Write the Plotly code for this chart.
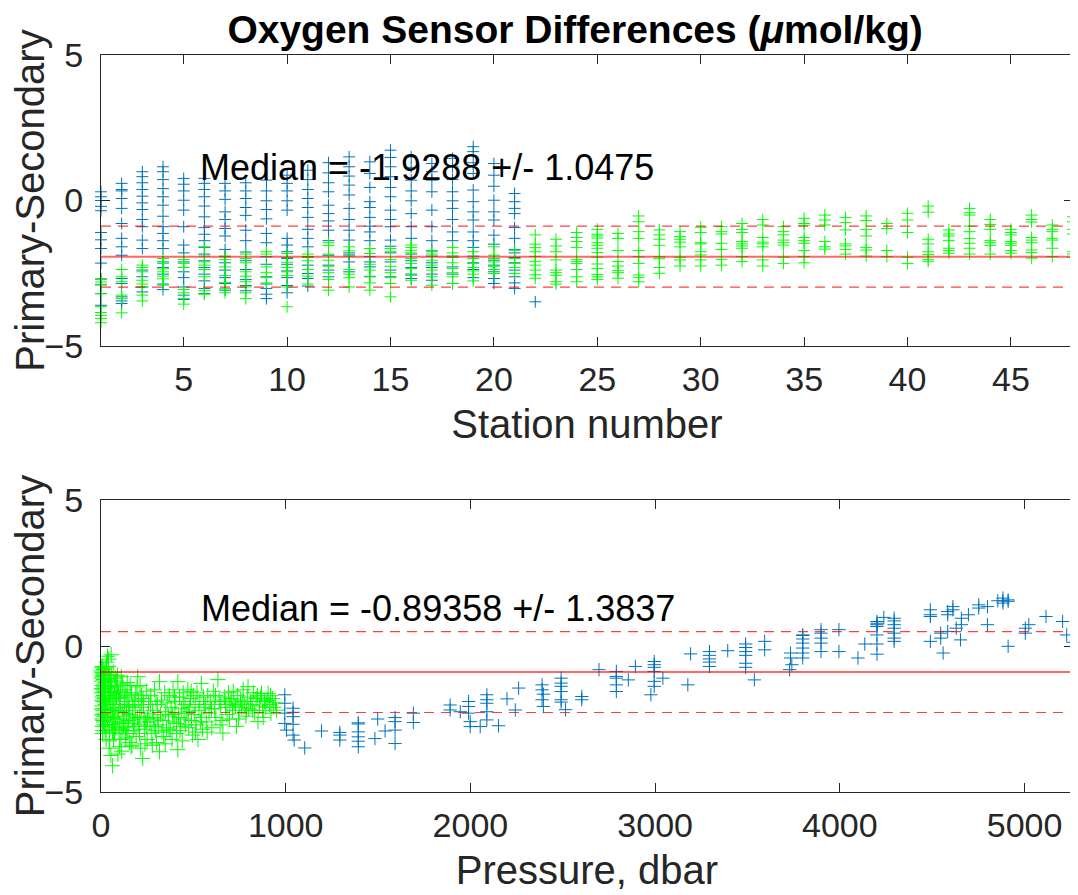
import plotly.graph_objects as go

# --- axis ticks / limits ---
STATION_TICKS = [5, 10, 15, 20, 25, 30, 35, 40, 45]
PRESSURE_TICKS = [0, 1000, 2000, 3000, 4000, 5000]
DIFF_TICKS = [-5, 0, 5]
STATION_RANGE = [1, 48]
PRESSURE_RANGE = [0, 5262]
DIFF_RANGE = [-5, 5]

# --- summary statistics printed on the panels ---
STATION_MEDIAN = -1.9288
STATION_SPREAD = 1.0475
PRESSURE_MEDIAN = -0.89358
PRESSURE_SPREAD = 1.3837

# --- top panel: primary-secondary per station (deep samples, stations 1-22) ---
DEEP_BY_STATION = [
    [0.3, 0.13, 0.0, -0.2, -0.35, -1.1, -1.35, -1.65, -2.15, -2.7, -2.9, -3.2, -3.6],
    [0.59, 0.38, 0.33, 0.07, -0.27, -0.79, -1.3, -1.59, -1.88, -2.68, -2.85, -3.31, -3.45, -3.54],
    [0.99, 0.82, 0.61, 0.38, 0.15, -0.08, -0.31, -0.65, -0.9, -1.36, -1.65, -2.39, -2.62, -2.97, -3.14],
    [1.16, 0.99, 0.72, 0.41, 0.13, -0.16, -0.54, -0.9, -1.13, -1.38, -1.65, -2.11, -2.3, -2.53, -2.87, -3.06],
    [0.76, 0.56, 0.33, 0.01, -0.33, -0.9, -1.53, -1.8, -2.11, -2.45, -2.65, -2.97, -3.25, -3.4],
    [0.76, 0.59, 0.38, 0.13, -0.19, -0.56, -0.93, -1.16, -1.38, -1.61, -1.84, -2.07, -2.3, -2.53, -2.76, -3.02, -3.2],
    [0.59, 0.33, 0.04, -0.39, -0.65, -0.96, -1.22, -1.68, -1.93, -2.14, -2.39, -2.65, -2.85, -3.08],
    [0.61, 0.33, 0.07, -0.24, -0.51, -1.02, -1.38, -1.77, -2.07, -2.37, -2.71, -2.92, -3.1],
    [0.7, 0.33, -0.01, -0.31, -0.63, -1.13, -1.45, -1.93, -2.19, -2.62, -2.87, -3.02, -3.22, -3.37],
    [0.87, 0.59, 0.33, -0.01, -0.33, -1.3, -1.53, -1.76, -1.99, -2.19, -2.42, -2.65, -2.92, -3.17],
    [1.04, 0.72, 0.38, 0.07, -0.24, -0.58, -0.99, -1.3, -1.59, -1.93, -2.22, -2.51, -2.68, -2.94],
    [1.3, 0.95, 0.61, 0.3, -0.16, -0.45, -0.7, -1.02, -1.38, -1.88, -2.22, -2.39, -2.62],
    [1.5, 1.16, 0.84, 0.53, 0.19, -0.27, -0.65, -1.02, -1.36, -1.8, -1.87, -2.11, -2.45],
    [1.33, 0.93, 0.45, -0.04, -0.24, -0.58, -0.88, -1.08, -1.38, -1.93, -2.11, -2.28, -2.62],
    [1.73, 1.48, 1.16, 0.82, 0.45, 0.13, -0.33, -0.65, -0.9, -1.36, -1.57, -1.8, -2.11, -2.39, -2.62],
    [1.5, 1.14, 0.7, 0.33, -0.01, -0.45, -0.9, -1.3, -1.84, -2.07, -2.3, -2.53, -2.68],
    [1.27, 0.99, 0.7, 0.3, -0.33, -0.9, -1.38, -1.73, -1.91, -2.14, -2.3, -2.53, -2.74],
    [1.45, 1.16, 0.72, 0.3, -0.01, -0.27, -0.65, -1.08, -1.38, -1.91, -2.28, -2.53, -2.85],
    [1.85, 1.68, 1.3, 0.93, 0.36, -0.04, -0.39, -0.67, -1.08, -1.38, -1.61, -1.91, -2.14, -2.37, -2.65],
    [1.27, 0.87, 0.49, 0.01, -0.39, -0.67, -1.19, -1.5, -2.05, -2.22, -2.45, -2.68, -2.85],
    [0.24, -0.04, -0.27, -0.45, -0.93, -1.3, -1.68, -1.8, -1.96, -2.14, -2.39, -2.62, -2.83, -3.02],
    [-3.48],
]

# --- top panel: shallow samples, stations 1-48 ---
SHALLOW_BY_STATION = [
    [-2.68, -2.8, -2.88, -3.2, -3.65, -3.85, -3.95, -4.05, -4.2],
    [-2.37, -2.62, -2.79, -3.25, -3.37, -3.86],
    [-2.22, -2.3, -2.45, -2.74, -2.87, -2.97, -3.25, -3.45],
    [-1.99, -2.16, -2.35, -2.45, -2.6, -2.69, -2.91],
    [-2.03, -2.16, -2.3, -3.06, -3.17, -3.37, -3.56],
    [-1.59, -1.91, -2.11, -2.22, -2.37, -2.62, -3.1, -3.22],
    [-1.91, -2.03, -2.28, -2.58, -2.81, -3.03, -3.17],
    [-1.84, -1.99, -2.14, -2.45, -2.6, -2.79, -2.97, -3.17, -3.37],
    [-1.76, -1.84, -2.28, -2.48, -2.65, -2.83],
    [-1.82, -1.96, -2.12, -2.3, -2.45, -2.58, -2.97, -3.65],
    [-1.84, -1.96, -2.07, -2.37, -2.6, -2.87],
    [-1.45, -1.54, -1.84, -2.05, -2.26, -2.48, -2.71, -3.08],
    [-1.59, -1.73, -1.91, -2.37, -2.53, -2.65, -2.97],
    [-1.65, -1.82, -2.19, -2.39, -2.6, -2.83, -3.08],
    [-1.65, -1.76, -2.03, -2.26, -2.48, -2.65, -2.85, -3.31],
    [-1.53, -1.61, -1.71, -1.8, -1.99, -2.16, -2.34, -2.57, -2.74],
    [-1.76, -1.84, -2.05, -2.22, -2.39, -2.62, -2.91],
    [-1.61, -1.8, -1.96, -2.14, -2.34, -2.48, -2.62, -2.85],
    [-1.76, -1.99, -2.16, -2.3, -2.42, -2.53, -2.76],
    [-1.59, -1.88, -1.99, -2.11, -2.26, -2.37, -2.51],
    [-1.71, -1.99, -2.16, -2.3, -2.51],
    [-1.18, -1.5, -1.62, -1.76, -1.92, -2.1, -2.22, -2.39, -2.55, -2.67],
    [-1.33, -1.56, -1.76, -2.04, -2.39, -2.48, -2.57, -2.79, -2.87],
    [-1.1, -1.27, -1.41, -1.61, -2.02, -2.09, -2.16, -2.37, -2.62, -2.79],
    [-0.99, -1.16, -1.22, -1.29, -1.45, -1.54, -1.64, -1.79, -1.95, -2.18, -2.34, -2.54, -2.62, -2.71],
    [-1.13, -1.3, -1.72, -2.1, -2.25, -2.41, -2.48, -2.67],
    [-0.53, -0.73, -1.07, -1.3, -1.72, -1.93, -2.16, -2.56, -2.64, -2.79],
    [-1.01, -1.18, -1.33, -1.54, -1.93, -2.0, -2.3, -2.5],
    [-1.07, -1.24, -1.33, -1.43, -1.59, -1.95, -2.04, -2.25],
    [-0.92, -1.1, -1.45, -1.49, -1.76, -1.87, -2.04, -2.25],
    [-0.9, -1.07, -1.15, -1.47, -1.68, -2.02, -2.22],
    [-0.79, -0.99, -1.1, -1.41, -1.49, -1.56, -1.64, -1.93, -2.1],
    [-0.65, -0.84, -1.27, -1.43, -1.49, -1.59, -2.04, -2.25],
    [-0.9, -1.07, -1.18, -1.36, -1.45, -1.53, -1.95, -2.16],
    [-0.61, -0.79, -0.85, -1.27, -1.38, -1.47, -1.72, -1.93, -2.14],
    [-0.5, -0.67, -0.84, -1.41, -1.59, -1.67],
    [-0.58, -0.76, -1.01, -1.49, -1.56, -1.68, -1.84],
    [-0.53, -0.69, -0.99, -1.22, -1.61, -1.7, -1.91],
    [-0.79, -0.96, -1.72, -1.93],
    [-0.44, -0.67, -1.1, -1.95, -2.16],
    [-0.19, -0.4, -1.33, -1.49, -1.76, -1.86, -2.02, -2.09],
    [-1.01, -1.15, -1.22, -1.38, -1.64, -1.72, -1.81],
    [-0.27, -0.42, -0.5, -0.88, -1.07, -1.3, -1.47, -1.64, -1.84],
    [-0.65, -0.82, -0.99, -1.38, -1.45, -1.54, -1.84],
    [-0.99, -1.1, -1.18, -1.41, -1.47, -1.54, -1.72, -1.81],
    [-0.5, -0.65, -0.74, -1.27, -1.36, -1.45, -1.7, -1.79, -1.98],
    [-0.84, -0.99, -1.07, -1.3, -1.36, -1.64, -1.93],
    [-0.56, -0.73, -0.99, -1.15, -1.76, -1.84, -1.95],
]

# --- bottom panel: (pressure dbar, primary-secondary) deep samples ---
DEEP_SAMPLES = [
    (995, -1.67), (995, -1.96), (1040, -2.13), (1040, -2.27), (995, -2.3), (1040, -2.42),
    (995, -2.65), (1040, -2.68), (1004, -2.88), (1040, -3.05), (1046, -3.22), (1103, -3.49),
    (1194, -2.91), (1293, -2.96), (1293, -3.05), (1293, -3.22), (1393, -2.63), (1393, -2.67),
    (1393, -2.94), (1393, -3.11), (1393, -3.26), (1393, -3.45), (1483, -3.17), (1498, -2.5),
    (1538, -2.91), (1592, -2.45), (1592, -2.59), (1592, -2.88), (1592, -3.34), (1691, -2.3),
    (1691, -2.62), (1890, -2.02), (1890, -2.19), (1945, -2.25), (1990, -1.9), (1990, -2.07),
    (1990, -2.3), (1999, -2.59), (1999, -2.76), (2053, -2.76), (2089, -1.67), (2089, -1.84),
    (2089, -1.96), (2089, -2.25), (2089, -2.53), (2152, -2.73), (2198, -1.81), (2243, -2.19),
    (2261, -1.44),
    (2388, -1.33), (2388, -1.5), (2395, -1.65), (2388, -1.84), (2395, -2.07),
    (2491, -1.1), (2491, -1.27), (2491, -1.38), (2491, -1.56), (2491, -1.84), (2491, -1.92),
    (2515, -2.18), (2603, -1.73), (2603, -1.84), (2696, -0.81),
    (2790, -0.87), (2790, -1.04), (2790, -1.1), (2790, -1.33), (2790, -1.56), (2855, -1.16),
    (2893, -0.7), (2977, -1.67),
    (2995, -0.53), (2995, -0.64), (2995, -0.73), (2995, -0.87), (2995, -1.21), (2995, -1.38),
    (3042, -1.1), (3177, -1.33), (3192, -0.27),
    (3294, -0.19), (3294, -0.32), (3294, -0.44), (3294, -0.55), (3294, -0.7), (3393, -0.16),
    (3490, 0.07), (3490, -0.05), (3490, -0.19), (3490, -0.32), (3490, -0.59), (3490, -0.73),
    (3537, -1.16), (3593, 0.16), (3593, -0.13),
    (3733, -0.24), (3733, -0.41), (3728, -0.81), (3740, -0.64),
    (3799, 0.38), (3799, 0.36), (3799, 0.24), (3799, 0.1), (3799, -0.07), (3799, -0.24), (3799, -0.41),
    (3898, 0.56), (3898, 0.44), (3898, 0.27), (3898, 0.1), (3898, -0.19),
    (3995, 0.56), (3995, -0.19), (4098, -0.41), (4135, 0.07),
    (4201, 0.84), (4201, 0.78), (4201, 0.73), (4201, 0.67), (4201, 0.38), (4201, 0.07), (4201, -0.28),
    (4238, 0.98),
    (4294, 0.95), (4294, 0.86), (4294, 0.73), (4294, 0.61), (4294, 0.44), (4294, 0.27), (4294, 0.16),
    (4490, 1.24), (4490, 1.07), (4490, 1.01), (4490, 0.16),
    (4546, 0.44), (4546, 0.27), (4559, -0.24),
    (4584, 1.18), (4584, 1.07), (4584, 0.5), (4612, 1.35), (4612, 1.24), (4630, 0.61),
    (4653, 0.21), (4658, 0.95), (4658, 0.73), (4696, 1.07),
    (4752, 1.41), (4752, 1.3), (4799, 1.35), (4799, 0.73), (4855, 1.55),
    (4883, 1.64), (4883, 1.55), (4883, 1.47), (4911, 1.58), (4911, 1.53), (4911, -0.01),
    (5004, 0.61), (5004, 0.44), (5023, 0.73), (5116, 1.01), (5206, 0.84), (5228, 0.38), (5262, 0.13),
]

# --- bottom panel: (pressure dbar, primary-secondary) shallow samples ---
SHALLOW_SAMPLES = [
    (3, -0.75), (5, -0.9), (8, -1.05), (4, -1.2), (6, -1.35), (10, -1.5), (3, -1.6), (7, -1.75),
    (12, -1.9), (5, -2.05), (9, -2.2), (4, -2.35), (11, -2.55), (6, -2.75), (8, -3.0), (15, -0.8),
    (18, -1.0), (20, -1.15), (16, -1.3), (22, -1.45), (25, -1.6), (19, -1.8), (24, -2.0),
    (21, -2.15), (27, -2.4), (14, -2.6), (23, -2.9), (28, -3.2), (30, -0.55), (26, -1.25),
    (2, -1.1), (13, -1.7), (17, -2.3), (29, -1.95), (11, -0.95), (1, -0.85), (2, -1.45),
    (4, -1.85), (9, -0.7), (13, -1.15), (17, -1.55), (21, -0.9), (6, -2.5), (10, -2.9),
    (7, -1.0), (15, -1.4), (20, -1.7), (26, -0.75), (3, -2.15), (12, -2.4), (18, -2.7),
    (35, -0.35), (40, -0.7), (45, -1.0), (50, -1.2), (38, -1.4), (55, -0.3), (60, -1.55),
    (42, -1.7), (65, -1.85), (48, -2.0), (70, -2.15), (52, -2.3), (75, -2.5), (58, -2.7),
    (63, -2.95), (68, -3.2), (44, -3.5), (63, -4.1), (78, -1.1), (72, -1.35), (36, -2.45),
    (56, -1.0), (80, -1.65), (46, -2.85), (74, -3.0), (66, -0.9), (33, -1.9), (77, -2.1),
    (39, -1.1), (53, -1.6), (61, -2.2), (69, -2.6), (47, -3.25), (34, -2.7), (41, -0.45),
    (57, -1.35), (49, -1.8), (71, -1.6), (37, -2.2), (64, -2.45), (54, -3.75), (79, -2.8),
    (85, -1.2), (90, -1.4), (95, -1.6), (100, -1.8), (105, -2.0), (110, -1.05), (115, -2.2),
    (120, -2.4), (125, -2.6), (130, -1.5), (135, -2.8), (140, -3.0), (145, -1.75), (150, -2.1),
    (155, -3.3), (163, -3.45), (88, -2.5), (98, -2.9), (108, -3.2), (118, -1.3), (128, -1.9),
    (138, -2.3), (148, -2.55), (158, -1.35), (92, -3.7), (112, -3.6), (132, -3.15), (152, -2.0),
    (84, -1.75), (102, -2.65), (142, -1.25), (122, -2.75), (96, -2.25), (106, -1.55),
    (126, -2.1), (146, -2.9), (114, -2.85), (89, -1.0), (136, -1.7), (156, -2.35), (101, -3.45),
    (165, -1.6), (170, -2.5), (175, -2.9), (180, -1.9), (185, -2.2), (190, -3.1), (195, -1.4),
    (199, -1.05), (205, -2.7), (210, -2.4), (215, -3.5), (220, -1.7), (226, -3.85), (230, -2.0),
    (235, -2.85), (240, -2.6), (245, -1.55), (250, -3.2), (255, -2.3), (168, -3.4), (178, -2.65),
    (188, -1.65), (198, -2.45), (208, -3.0), (218, -2.1), (228, -1.8), (238, -3.35), (248, -2.75),
    (258, -1.9), (172, -2.05), (212, -1.35), (252, -2.5), (183, -2.75), (202, -1.85), (233, -2.45),
    (265, -2.6), (270, -1.7), (275, -3.0), (280, -2.2), (285, -2.45), (290, -1.5), (295, -2.9),
    (300, -3.3), (305, -2.0), (310, -2.7), (317, -3.62), (317, -1.22), (322, -2.35), (328, -1.85),
    (335, -2.55), (340, -3.1), (345, -1.6), (350, -2.25), (355, -2.8), (268, -2.0), (278, -3.4),
    (288, -2.75), (298, -1.9), (308, -2.5), (330, -2.95), (348, -3.35), (358, -1.95),
    (365, -2.4), (370, -1.7), (375, -2.9), (380, -2.1), (385, -3.2), (390, -1.5), (395, -2.6),
    (400, -2.3), (405, -1.9), (410, -3.0), (416, -3.55), (416, -1.22), (420, -2.45), (425, -1.75),
    (430, -2.75), (435, -2.15), (440, -3.25), (445, -1.6), (450, -2.5), (455, -2.0), (368, -2.85),
    (388, -2.35), (398, -1.75), (408, -2.65), (428, -2.9), (448, -1.9), (458, -2.7),
    (465, -2.3), (470, -1.5), (475, -2.8), (480, -2.1), (485, -1.8), (490, -2.55), (495, -3.05),
    (500, -1.7), (505, -2.35), (510, -2.0), (515, -2.7), (520, -1.6), (525, -3.2), (530, -2.2),
    (535, -1.9), (543, -1.28), (545, -2.45), (550, -2.85), (555, -1.75), (472, -2.25),
    (488, -1.55), (512, -2.95), (538, -2.6), (558, -2.1),
    (565, -2.0), (570, -2.6), (578, -1.7), (585, -2.3), (592, -1.9), (600, -2.8), (608, -1.55),
    (615, -2.15), (622, -2.45), (633, -1.15), (640, -1.85), (648, -2.0), (655, -2.55),
    (660, -2.98), (668, -1.75), (675, -2.1), (682, -2.35), (690, -1.6), (698, -2.0), (575, -2.95),
    (598, -2.15), (620, -1.7), (645, -2.7), (672, -1.9), (695, -2.5),
    (705, -1.8), (712, -2.2), (720, -1.95), (728, -2.05), (733, -2.75), (740, -1.7), (748, -2.3),
    (755, -1.85), (762, -2.1), (770, -1.5), (778, -2.0), (785, -2.4), (792, -1.75), (796, -1.39),
    (800, -2.15), (716, -1.55), (744, -2.5), (768, -1.9), (788, -2.2),
    (810, -1.9), (818, -2.0), (825, -1.6), (832, -2.3), (840, -1.8), (850, -2.59), (858, -2.05),
    (865, -1.75), (869, -1.62), (875, -2.2), (885, -1.9), (892, -2.1), (900, -1.85), (905, -1.62),
    (912, -2.0), (920, -2.3), (928, -1.8), (935, -2.1), (945, -1.95), (950, -2.2), (822, -2.2),
    (848, -1.7), (878, -2.45), (918, -1.7),
]

BLUE = "#0072BD"
GREEN = "#00FF00"
AXIS_GRAY = "#262626"
FONT = "Liberation Sans, Arial, Helvetica, sans-serif"


def by_station(groups):
    # station number is the 1-based position of each group
    xs, ys = [], []
    for station, vals in enumerate(groups, start=1):
        xs += [station] * len(vals)
        ys += vals
    return xs, ys


def crosses(x, y, color, xa, ya, size=8.5):
    return go.Scatter(
        x=x, y=y, mode="markers", xaxis=xa, yaxis=ya,
        marker=dict(symbol="cross-thin", size=size, line=dict(width=1, color=color)),
        cliponaxis=False, showlegend=False, hoverinfo="skip",
    )


fig = go.Figure()

# --- TOP PANEL ---
sx, sy = by_station(DEEP_BY_STATION)
fig.add_trace(crosses(sx, sy, BLUE, "x", "y"))
sx, sy = by_station(SHALLOW_BY_STATION)
fig.add_trace(crosses(sx, sy, GREEN, "x", "y"))

# --- BOTTOM PANEL ---
fig.add_trace(crosses([p for p, _ in DEEP_SAMPLES], [d for _, d in DEEP_SAMPLES],
                      BLUE, "x2", "y2", size=9.5))
fig.add_trace(crosses([p for p, _ in SHALLOW_SAMPLES], [d for _, d in SHALLOW_SAMPLES],
                      GREEN, "x2", "y2", size=11))

# median and +/- spread lines
for xref, yref, med, spread in [("x domain", "y", STATION_MEDIAN, STATION_SPREAD),
                                ("x2 domain", "y2", PRESSURE_MEDIAN, PRESSURE_SPREAD)]:
    fig.add_shape(type="line", xref=xref, yref=yref, x0=0, x1=1, y0=med, y1=med,
                  line=dict(color="rgba(255,0,0,0.6)", width=2))
    for level in (med + spread, med - spread):
        fig.add_shape(type="line", xref=xref, yref=yref, x0=0, x1=1, y0=level, y1=level,
                      line=dict(color="rgba(255,0,0,0.75)", width=1.2, dash="10px,7px"))

fig.add_annotation(x=5.7, y=1.15, xref="x", yref="y", showarrow=False,
                   xanchor="left", yanchor="middle",
                   text=f"Median = {STATION_MEDIAN:.5g} +/- {STATION_SPREAD:.5g}",
                   font=dict(size=36, color="black", family=FONT))
fig.add_annotation(x=529, y=1.27, xref="x2", yref="y2", showarrow=False,
                   xanchor="left", yanchor="middle",
                   text=f"Median = {PRESSURE_MEDIAN:.5g} +/- {PRESSURE_SPREAD:.5g}",
                   font=dict(size=36, color="black", family=FONT))

axis_style = dict(
    ticks="inside", ticklen=9, tickwidth=1, tickcolor=AXIS_GRAY,
    showline=True, linecolor=AXIS_GRAY, linewidth=1, mirror="ticks",
    showgrid=False, zeroline=False, automargin=False,
    tickfont=dict(size=34, color=AXIS_GRAY, family=FONT),
)
label_font = dict(size=40, color=AXIS_GRAY, family=FONT)

# the page body adds an 8px offset, so the figure is 8px smaller than the window
fig.update_layout(
    template="none",
    width=1070, height=887,
    paper_bgcolor="white", plot_bgcolor="white",
    font=dict(family=FONT, color=AXIS_GRAY),
    margin=dict(l=0, r=0, t=0, b=0),
    showlegend=False,
    title=dict(text="<b>Oxygen Sensor Differences (<i>\u03bc</i>mol/kg)</b>",
               x=0.530, xanchor="center", y=0.9765, yanchor="middle",
               font=dict(size=39, color="black", family=FONT)),
    xaxis=dict(axis_style, domain=[0.0869, 0.9953], anchor="y", range=STATION_RANGE,
               tickvals=STATION_TICKS, ticklabelstandoff=3,
               title=dict(text="Station number", standoff=13, font=label_font)),
    yaxis=dict(axis_style, domain=[0.6189, 0.9470], anchor="x", range=DIFF_RANGE,
               tickvals=DIFF_TICKS, ticklabelstandoff=10,
               title=dict(text="Primary-Secondary", standoff=6, font=label_font)),
    xaxis2=dict(axis_style, domain=[0.0869, 0.9953], anchor="y2", range=PRESSURE_RANGE,
                tickvals=PRESSURE_TICKS, ticklabelstandoff=3,
                title=dict(text="Pressure, dbar", standoff=13, font=label_font)),
    yaxis2=dict(axis_style, domain=[0.1161, 0.4453], anchor="x2", range=DIFF_RANGE,
                tickvals=DIFF_TICKS, ticklabelstandoff=10,
                title=dict(text="Primary-Secondary", standoff=6, font=label_font)),
)

fig.write_html("out.html")
